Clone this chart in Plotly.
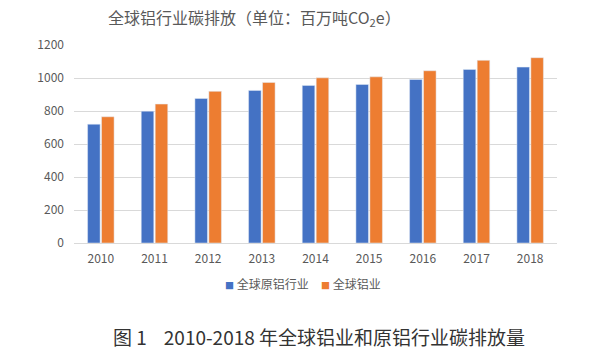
import plotly.graph_objects as go

years = ["2010", "2011", "2012", "2013", "2014", "2015", "2016", "2017", "2018"]
primary_al = [720, 799, 876, 925, 955, 961, 991, 1052, 1066]
all_al = [765, 842, 919, 973, 1001, 1007, 1044, 1107, 1123]
series_names = ["全球原铝行业", "全球铝业"]
series_colors = ["#4472C4", "#ED7D31"]
title_text = "全球铝行业碳排放（单位：百万吨CO<sub>2</sub>e）"
caption_text = "图 1&nbsp;&nbsp;&nbsp; 2010-2018 年全球铝业和原铝行业碳排放量"

font_cjk = "Noto Sans CJK SC"
gray = "#595959"

L, R, T, B = 74, 59, 45, 108
PW, PH = 616 - L - R, 351 - T - B


def px_x(x):
    return (x - L) / PW


def px_y(y):
    return (351 - B - y) / PH


fig = go.Figure()
fig.add_trace(go.Bar(x=years, y=primary_al, name=series_names[0], marker_color=series_colors[0]))
fig.add_trace(go.Bar(x=years, y=all_al, name=series_names[1], marker_color=series_colors[1]))

legend_ann = []
for name, color, xpos in zip(series_names, series_colors, [223, 319]):
    legend_ann.append(dict(
        text=f'<span style="color:{color};font-size:9px">■</span> {name}',
        xref="paper", yref="paper", x=px_x(xpos), y=px_y(283),
        xanchor="left", yanchor="middle", showarrow=False,
        font=dict(size=12, color=gray, family=font_cjk)))

fig.update_layout(
    width=616, height=351,
    margin=dict(l=L, r=R, t=T, b=B),
    paper_bgcolor="white", plot_bgcolor="white",
    barmode="group", bargap=0.48, bargroupgap=0.1,
    font=dict(family=font_cjk, color=gray, size=12),
    showlegend=False,
    xaxis=dict(showgrid=False, showline=True, linecolor="#D9D9D9", linewidth=1,
               ticks="", ticklabelstandoff=5,
               tickfont=dict(size=12, color=gray), fixedrange=True),
    yaxis=dict(range=[0, 1200], dtick=200, showgrid=True, gridcolor="#D9D9D9",
               gridwidth=1, zeroline=False, ticks="", ticklen=0, ticklabelstandoff=9,
               tickfont=dict(size=12, color=gray), fixedrange=True),
    annotations=[
        dict(text=title_text, xref="paper", yref="paper", x=px_x(254), y=px_y(18),
             xanchor="center", yanchor="middle", showarrow=False,
             font=dict(size=16, color=gray, family=font_cjk)),
        dict(text=caption_text, xref="paper", yref="paper", x=px_x(319), y=px_y(336),
             xanchor="center", yanchor="middle", showarrow=False,
             font=dict(size=19, color="#333333", family=font_cjk)),
    ] + legend_ann,
)

fig.write_html("out.html")
